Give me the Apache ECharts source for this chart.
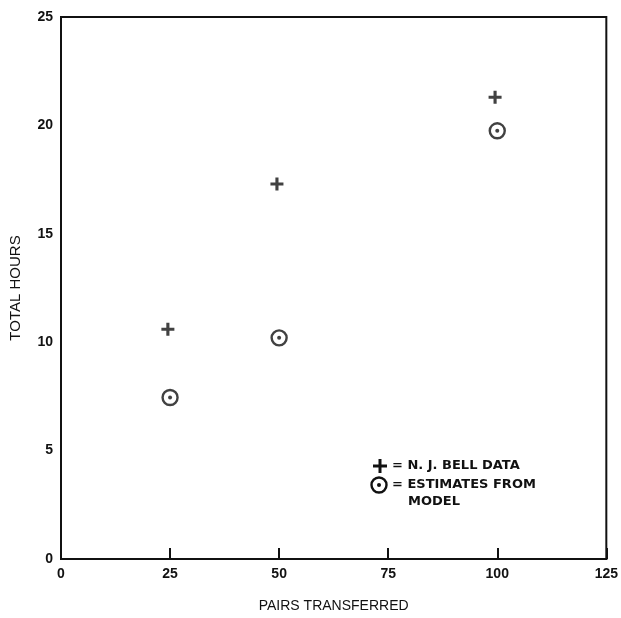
<!DOCTYPE html>
<html><head><meta charset="utf-8">
<script src="https://cdn.jsdelivr.net/npm/echarts@6/dist/echarts.min.js"></script>
<style>html,body{margin:0;padding:0;background:#fff}#c{width:621px;height:618px}</style>
</head><body><div id="c"></div>
<script>
var xTicks = [0, 25, 50, 75, 100, 125];
var yTicks = [0, 5, 10, 15, 20, 25];
var bellX = [24.5, 49.5, 99.5];
var bellY = [10.6, 17.3, 21.3];
var modelX = [25, 50, 100];
var modelY = [7.45, 10.2, 19.75];
var xTitle = 'PAIRS TRANSFERRED';
var yTitle = 'TOTAL HOURS';
var legendBell = '= N. J. BELL DATA';
var legendModel = '= ESTIMATES FROM';
var legendModel2 = 'MODEL';

var ink = '#111';
var font = '"Liberation Sans", Arial, sans-serif';
var legFont = 'bold 13px "DejaVu Sans", sans-serif';
var chart = echarts.init(document.getElementById('c'), null, {renderer: 'canvas'});
var plus = 'path://M3.8,0H6.2V3.8H10V6.2H6.2V10H3.8V6.2H0V3.8H3.8Z';
chart.setOption({
  animation: false,
  backgroundColor: '#fff',
  grid: {left: 61, right: 12, top: 17, bottom: 51, show: true, borderColor: ink, borderWidth: 2, backgroundColor: 'transparent'},
  xAxis: {
    type: 'value', min: xTicks[0], max: xTicks[xTicks.length - 1], interval: 25,
    name: xTitle, nameLocation: 'middle', nameGap: 40,
    nameTextStyle: {color: ink, fontFamily: font, fontSize: 14},
    axisLine: {lineStyle: {color: ink, width: 2}},
    axisTick: {inside: true, length: 11, lineStyle: {color: ink, width: 2}},
    axisLabel: {color: ink, fontFamily: font, fontSize: 14, fontWeight: 'bold', margin: 8},
    splitLine: {show: false}
  },
  yAxis: {
    type: 'value', min: yTicks[0], max: yTicks[yTicks.length - 1], interval: 5,
    name: yTitle, nameLocation: 'middle', nameGap: 38, nameRotate: 90,
    nameTextStyle: {color: ink, fontFamily: font, fontSize: 15},
    axisLine: {lineStyle: {color: ink, width: 2}},
    axisTick: {show: false},
    axisLabel: {color: ink, fontFamily: font, fontSize: 14, fontWeight: 'bold', margin: 8},
    splitLine: {show: false}
  },
  series: [
    {type: 'scatter', name: 'bell', symbol: plus, symbolSize: 13,
     itemStyle: {color: ink},
     data: bellX.map(function (x, i) { return [x, bellY[i]]; })},
    {type: 'scatter', name: 'model', symbol: 'circle', symbolSize: 15,
     itemStyle: {color: 'transparent', borderColor: ink, borderWidth: 2.4},
     data: modelX.map(function (x, i) { return [x, modelY[i]]; })},
    {type: 'scatter', name: 'modelDot', symbol: 'circle', symbolSize: 4,
     itemStyle: {color: ink},
     data: modelX.map(function (x, i) { return [x, modelY[i]]; })}
  ],
  graphic: [
    {type: 'rect', shape: {x: 373, y: 464.5, width: 14, height: 3}, style: {fill: ink}},
    {type: 'rect', shape: {x: 378.5, y: 459, width: 3, height: 14}, style: {fill: ink}},
    {type: 'text', left: 392, top: 459, style: {text: legendBell, fill: ink, font: legFont}},
    {type: 'circle', shape: {cx: 379, cy: 485, r: 7.5}, style: {fill: 'transparent', stroke: ink, lineWidth: 2.4}},
    {type: 'circle', shape: {cx: 379, cy: 485, r: 2}, style: {fill: ink}},
    {type: 'text', left: 392, top: 478, style: {text: legendModel, fill: ink, font: legFont}},
    {type: 'text', left: 408, top: 495, style: {text: legendModel2, fill: ink, font: legFont}}
  ]
});
</script></body></html>
